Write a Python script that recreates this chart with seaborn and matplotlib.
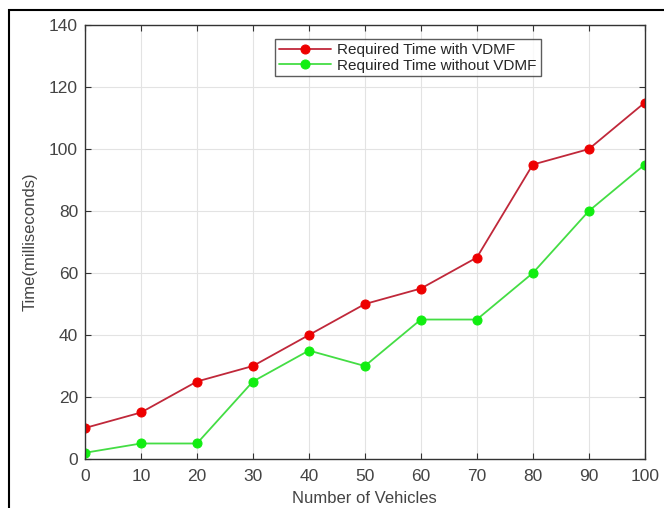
import pandas as pd
import matplotlib.pyplot as plt
import seaborn as sns
from matplotlib.patches import Rectangle

# dados
vehicles = [0, 10, 20, 30, 40, 50, 60, 70, 80, 90, 100]
time_with_vdmf = [10, 15, 25, 30, 40, 50, 55, 65, 95, 100, 115]
time_without_vdmf = [2, 5, 5, 25, 35, 30, 45, 45, 60, 80, 95]

df = pd.DataFrame({'vehicles': vehicles,
                   'with': time_with_vdmf,
                   'without': time_without_vdmf})

sns.set_style('whitegrid')
plt.rcParams['font.family'] = ['Liberation Sans', 'DejaVu Sans']

fig = plt.figure(figsize=(6.64, 5.08), dpi=100)
ax = fig.add_axes([0.128, 0.0965, 0.843, 0.854])

sns.lineplot(data=df, x='vehicles', y='with', ax=ax, color='#c0283a', lw=1.3,
             marker='o', markersize=6.5, markerfacecolor='#ee0000',
             markeredgecolor='#ee0000', label='Required Time with VDMF')
sns.lineplot(data=df, x='vehicles', y='without', ax=ax, color='#44dd44', lw=1.3,
             marker='o', markersize=6.5, markerfacecolor='#11ee11',
             markeredgecolor='#11ee11', label='Required Time without VDMF')

ax.set_xlim(0, 100)
ax.set_ylim(0, 140)
ax.set_xticks(range(0, 101, 10))
ax.set_yticks(range(0, 141, 20))
ax.grid(True, color='#e3e3e3', lw=0.8)
for s in ax.spines.values():
    s.set_color('#333333')
    s.set_linewidth(1.0)
ax.tick_params(direction='in', length=4, color='#333333', labelsize=12.5,
               labelcolor='#444444', top=True, right=True, bottom=True, left=True)
ax.tick_params(axis='x', pad=7)
ax.tick_params(axis='y', pad=5)
ax.set_xlabel('Number of Vehicles', fontsize=12, color='#444444', labelpad=5)
ax.set_ylabel('Time(milliseconds)', fontsize=12, color='#444444', labelpad=8)

leg = ax.legend(loc='upper center', bbox_to_anchor=(0.577, 0.985), fontsize=11,
                frameon=True, fancybox=False, edgecolor='#333333',
                borderpad=0.25, labelspacing=0.1, handlelength=3.4, handletextpad=0.4)
leg.get_frame().set_linewidth(1.0)

# moldura preta da imagem
fig.patches.append(Rectangle((9 / 664, -0.05), 1.1, 1 - 10 / 508 + 0.05,
                             transform=fig.transFigure, fill=False,
                             edgecolor='black', lw=1.5))

fig.savefig('out.png', dpi=100)
